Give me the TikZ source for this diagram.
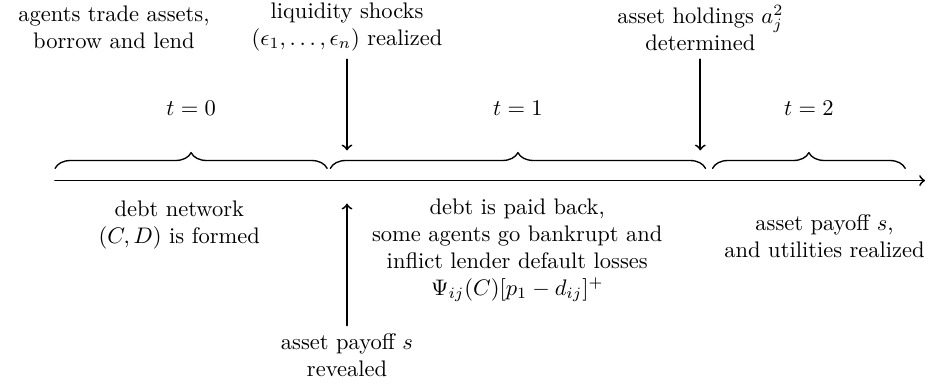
\documentclass[tikz,border=0pt]{standalone}
\usepackage{amsmath}
\usepackage{amssymb}
\usetikzlibrary{decorations.pathreplacing}

\begin{document}
\begin{tikzpicture}[
						thick,
						every node/.style={align=center},
						period/.style={semithick, decorate, decoration={brace, amplitude=7pt}},
						line cap=round,
						line join=round
						]
						
						\useasboundingbox (0,0) rectangle (14.73,6.02);
						
						% Time axis
						\coordinate (axisstart) at (0.86,3.20);
						\coordinate (axisend) at (14.45,3.20);
						\draw[->] (axisstart) -- (axisend);
						
						% Periods
						\coordinate (p0a) at (0.86,3.39);
						\coordinate (p0b) at (5.11,3.39);
						\coordinate (p1a) at (5.16,3.39);
						\coordinate (p1b) at (11.02,3.39);
						\coordinate (p2a) at (11.13,3.39);
						\coordinate (p2b) at (14.14,3.39);
						\draw[period] (p0a) -- (p0b) node[midway, yshift=0.94cm] (t0) {$t=0$};
						\draw[period] (p1a) -- (p1b) node[midway, yshift=0.94cm] (t1) {$t=1$};
						\draw[period] (p2a) -- (p2b) node[midway, yshift=0.94cm] (t2) {$t=2$};
						
						% Events above the axis
						\node (trade) at (1.78,5.60) {agents trade assets,\\borrow and lend};
						\node (shocks) at (5.42,5.60) {liquidity shocks\\$(\epsilon_1,\ldots,\epsilon_n)$ realized};
						\node (holdings) at (10.94,5.58) {asset holdings $a_j^2$\\determined};
						\coordinate (shockend) at (5.42,3.67);
						\coordinate (holdend) at (10.94,3.67);
						\draw[->] (shocks) -- (shockend);
						\draw[->] (holdings) -- (holdend);
						
						% Events below the axis
						\node (network) at (2.80,2.50) {debt network\\$(C,D)$ is formed};
						\node (payback) at (8.08,2.11) {debt is paid back,\\some agents go bankrupt and\\inflict lender default losses\\$\Psi_{ij}(C)[p_1-d_{ij}]^+$};
						\node (utilities) at (12.88,2.33) {asset payoff $s$,\\and utilities realized};
						\node (payoff) at (5.42,0.47) {asset payoff $s$\\revealed};
						\coordinate (payofftip) at (5.42,2.84);
						\draw[->] (payoff) -- (payofftip);
						
					\end{tikzpicture}
\end{document}
